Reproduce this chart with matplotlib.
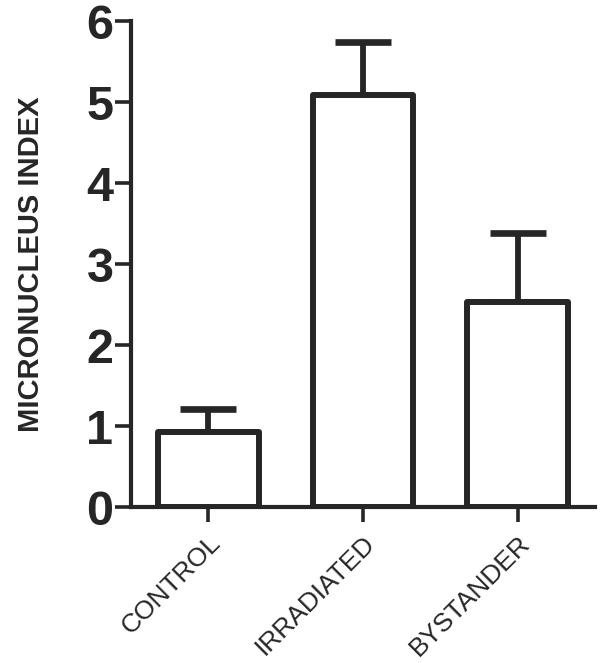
import numpy as np
import matplotlib
matplotlib.use('Agg')
import matplotlib.pyplot as plt

# data
groups = ['CONTROL', 'IRRADIATED', 'BYSTANDER']
means = [0.93, 5.09, 2.53]
err_up = [0.28, 0.65, 0.85]
yticks = [0, 1, 2, 3, 4, 5, 6]

dark = '#262626'
plt.rcParams['font.family'] = ['Liberation Sans', 'DejaVu Sans']

fig = plt.figure(figsize=(6, 6.63), dpi=100)
ax = fig.add_axes([0.218, 0.235, 0.774, 0.733])

x = np.arange(len(groups))
bars = ax.bar(x, means, width=0.65, color='white', edgecolor=dark,
              linewidth=4.3, zorder=3)
for b in bars:
    b.set_joinstyle('round')

# one-sided (upper) error bars
eb = ax.errorbar(x, means, yerr=[np.zeros(len(x)), err_up], fmt='none',
                 ecolor=dark, elinewidth=4.2, capsize=20, capthick=4.8,
                 zorder=2)

ax.set_xlim(-0.5, 2.5)
ax.set_ylim(0, 6)
ax.set_yticks(yticks)
ax.set_yticklabels([str(t) for t in yticks], fontsize=35, fontweight='bold',
                   color=dark)
ax.set_xticks(x)
ax.set_xticklabels(groups, rotation=45, ha='right', va='top',
                   rotation_mode='anchor', fontsize=19, color=dark)

ax.tick_params(axis='y', length=11.5, width=2.6, color=dark, pad=1)
ax.tick_params(axis='x', length=11, width=2.6, color=dark, pad=6)

for s in ['top', 'right']:
    ax.spines[s].set_visible(False)
for s in ['left', 'bottom']:
    ax.spines[s].set_linewidth(3)
    ax.spines[s].set_color(dark)
    ax.spines[s].set_zorder(4)

ax.set_ylabel('MICRONUCLEUS INDEX', fontsize=21, fontweight='bold',
              color=dark)
ax.yaxis.set_label_coords(-0.185, 0.5)

fig.savefig('out.png', dpi=100)
